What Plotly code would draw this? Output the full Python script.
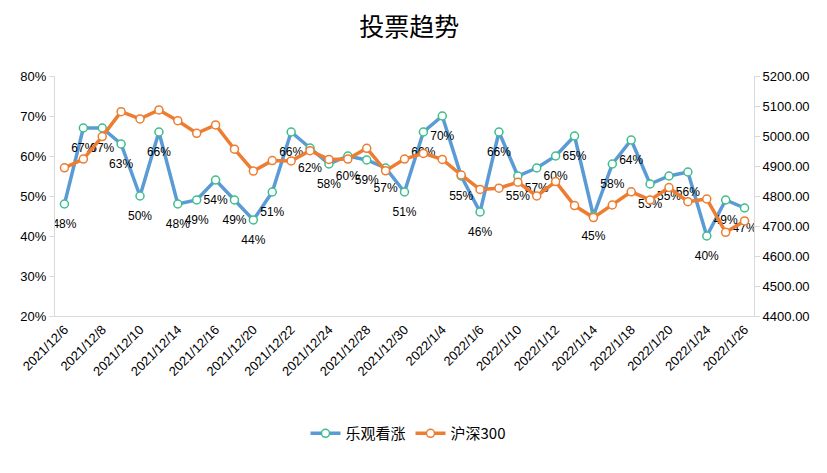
import plotly.graph_objects as go

dates = ["2021/12/6", "2021/12/7", "2021/12/8", "2021/12/9", "2021/12/10",
         "2021/12/13", "2021/12/14", "2021/12/15", "2021/12/16", "2021/12/17",
         "2021/12/20", "2021/12/21", "2021/12/22", "2021/12/23", "2021/12/24",
         "2021/12/27", "2021/12/28", "2021/12/29", "2021/12/30", "2021/12/31",
         "2022/1/4", "2022/1/5", "2022/1/6", "2022/1/7", "2022/1/10",
         "2022/1/11", "2022/1/12", "2022/1/13", "2022/1/14", "2022/1/17",
         "2022/1/18", "2022/1/19", "2022/1/20", "2022/1/21", "2022/1/24",
         "2022/1/25", "2022/1/26"]

bullish_pct = [48, 67, 67, 63, 50, 66, 48, 49, 54, 49,
               44, 51, 66, 62, 58, 60, 59, 57, 51, 66,
               70, 55, 46, 66, 55, 57, 60, 65, 45, 58,
               64, 53, 55, 56, 40, 49, 47]

csi300 = [4894, 4923, 4998, 5081, 5057, 5087, 5051, 5009, 5037, 4956,
          4883, 4918, 4917, 4951, 4922, 4923, 4959, 4884, 4923, 4942,
          4922, 4870, 4822, 4826, 4846, 4800, 4848, 4768, 4728, 4770,
          4814, 4787, 4828, 4781, 4790, 4679, 4717]

tick_dates = dates[::2]

series_names = ["乐观看涨", "沪深300"]
title_text = "投票趋势"

BLUE = "#5B9BD5"
ORANGE = "#ED7D31"
GREEN = "#3DBE8C"
AXIS = "#D9D9D9"
CJK = "Noto Sans CJK SC"
LAT = "Liberation Sans, Arial, sans-serif"

fig = go.Figure()
fig.add_trace(go.Scatter(
    x=dates, y=bullish_pct, name=series_names[0], mode="lines+markers",
    line=dict(color=BLUE, width=3.5),
    marker=dict(size=8, color="white", line=dict(color=GREEN, width=1.5)),
    yaxis="y", hoverinfo="skip"))
fig.add_trace(go.Scatter(
    x=dates, y=csi300, name=series_names[1], mode="lines+markers",
    line=dict(color=ORANGE, width=3.5),
    marker=dict(size=8, color="white", line=dict(color=ORANGE, width=1.5)),
    yaxis="y2", hoverinfo="skip"))
fig.add_trace(go.Scatter(
    x=dates, y=bullish_pct, mode="markers+text", showlegend=False,
    marker=dict(size=22, color="rgba(0,0,0,0)"),
    text=[f"{v}%" for v in bullish_pct], textposition="bottom center",
    textfont=dict(family=LAT, size=12, color="#000000"),
    yaxis="y", hoverinfo="skip"))

fig.update_layout(
    width=819, height=465,
    margin=dict(l=47, r=73, t=68, b=157),
    paper_bgcolor="white", plot_bgcolor="white",
    title=dict(text=title_text, x=0.49, xanchor="center", y=0.959, yanchor="middle",
               font=dict(family=CJK, size=25, color="#000000")),
    xaxis=dict(type="category", range=[-0.5, len(dates) - 0.5],
               tickmode="array", tickvals=tick_dates, ticktext=tick_dates,
               tickangle=-45, showgrid=False, showline=True, linecolor=AXIS,
               linewidth=1, ticks="", zeroline=False,
               tickfont=dict(family=LAT, size=13, color="#000000")),
    yaxis=dict(range=[20, 80], dtick=10, ticksuffix="%", showgrid=False,
               showline=True, linecolor=AXIS, linewidth=1, ticks="outside",
               ticklen=5, tickcolor=AXIS, zeroline=False,
               tickfont=dict(family=LAT, size=13, color="#000000")),
    yaxis2=dict(range=[4400, 5200], dtick=100, tickformat=".2f", overlaying="y",
                side="right", showgrid=False, showline=True, linecolor=AXIS,
                linewidth=1, ticks="outside", ticklen=5, tickcolor=AXIS,
                zeroline=False,
                tickfont=dict(family=LAT, size=13, color="#000000")),
    legend=dict(orientation="h", x=0.505, xanchor="center", y=-0.49, yanchor="middle",
                font=dict(family=CJK, size=15, color="#000000"),
                itemwidth=30, traceorder="normal"),
    showlegend=True,
)

fig.write_html("out.html")
